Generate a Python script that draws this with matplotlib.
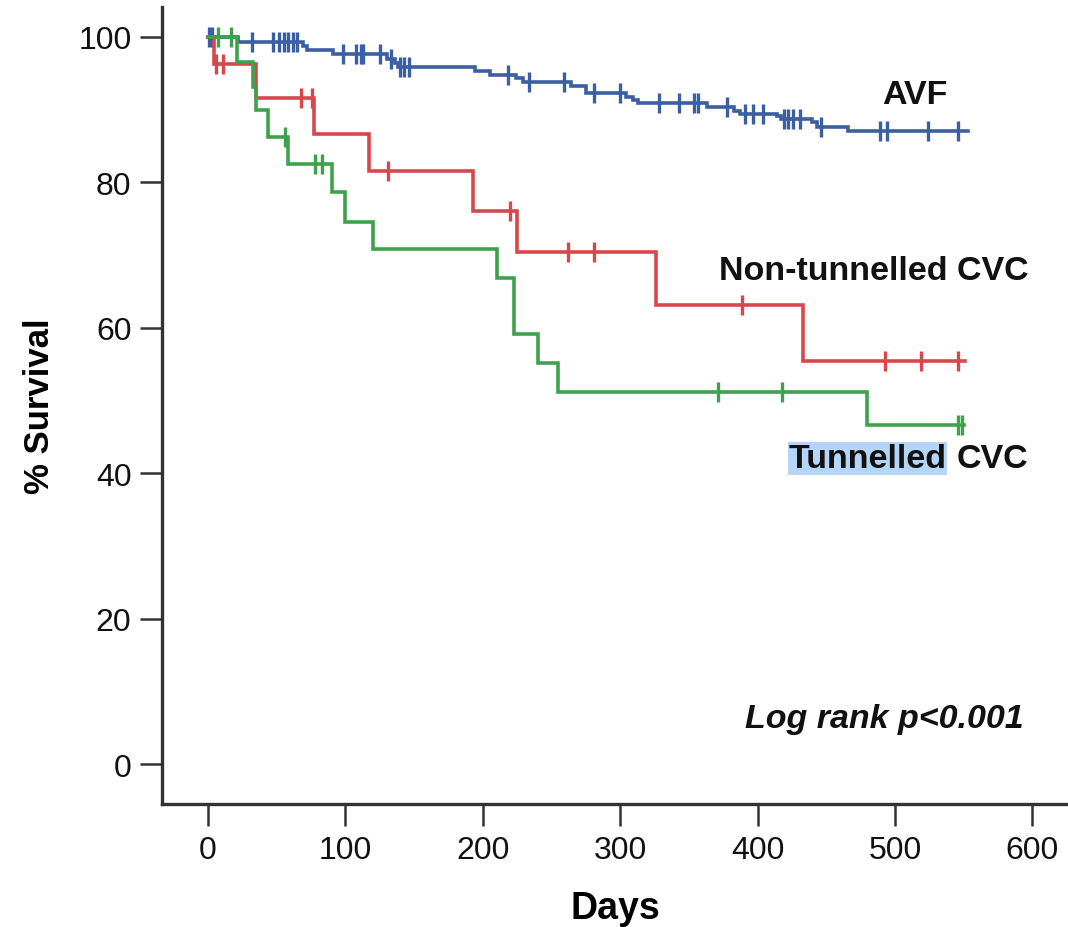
import numpy as np
import matplotlib
matplotlib.use("Agg")
from matplotlib import pyplot as plt

plt.rcParams['font.family'] = ['Liberation Sans', 'DejaVu Sans']

# AVF: event times (days) and % survival after each step
avf_t = [0, 22, 69, 72, 91, 130, 136, 138, 194, 205, 224, 229, 264, 275,
         304, 309, 313, 363, 383, 387, 414, 417, 440, 443, 466]
avf_s = [100, 99.3, 98.8, 98.2, 97.7, 97.0, 96.4, 95.8, 95.3, 94.8, 94.4, 93.8, 93.3, 92.3,
         91.7, 91.3, 90.9, 90.3, 89.8, 89.4, 89.1, 88.7, 88.3, 87.6, 87.1]
avf_end = 553
avf_cens = [1, 3, 32, 47, 52, 55, 58, 62, 65, 98, 108, 111, 113, 125, 133, 140,
            143, 146, 218, 234, 259, 281, 300, 328, 343, 354, 357, 378, 391,
            397, 404, 419, 422, 426, 431, 446, 489, 494, 524, 546]

# Non-tunnelled CVC
nt_t = [0, 4, 35, 77, 117, 193, 225, 326, 433]
nt_s = [100, 96.3, 91.6, 86.7, 81.5, 76.0, 70.4, 63.1, 55.4]
nt_end = 551
nt_cens = [6, 11, 68, 76, 131, 220, 262, 281, 389, 493, 519, 546]

# Tunnelled CVC
tu_t = [0, 21, 33, 35, 44, 58, 90, 100, 120, 210, 223, 240, 255, 480]
tu_s = [100, 96.5, 93.1, 89.9, 86.2, 82.5, 78.7, 74.6, 70.8, 66.8, 59.1, 55.2, 51.1, 46.6]
tu_end = 550
tu_cens = [7, 17, 56, 78, 83, 371, 418, 546, 549]

x_ticks = [0, 100, 200, 300, 400, 500, 600]
y_ticks = [0, 20, 40, 60, 80, 100]

fig = plt.figure(figsize=(10.68, 9.28), dpi=100)
ax = fig.add_axes([0.1517, 0.1325, 0.8483, 0.8589])


def km(t, s, end, cens, color):
    tt = list(t) + [end]
    ss = list(s) + [s[-1]]
    ax.step(tt, ss, where='post', color=color, lw=2.6, solid_joinstyle='miter')
    idx = np.searchsorted(t, cens, side='right') - 1
    ax.plot(cens, np.array(s)[idx], ls='none', marker='|', ms=14, mew=2.4, color=color)


km(avf_t, avf_s, avf_end, avf_cens, '#3a5fa3')
km(nt_t, nt_s, nt_end, nt_cens, '#d8474c')
km(tu_t, tu_s, tu_end, tu_cens, '#3ea24c')

ax.set_xlim(-33.5, 626)
ax.set_ylim(-5.5, 104.1)
ax.set_xticks(x_ticks)
ax.set_yticks(y_ticks)
for side in ['top', 'right']:
    ax.spines[side].set_visible(False)
for side in ['left', 'bottom']:
    ax.spines[side].set_linewidth(2.4)
    ax.spines[side].set_color('#333333')
ax.tick_params(length=16, width=1.8, color='#333333', labelsize=23, pad=6,
               labelcolor='#111111')

ax.set_xlabel('Days', fontsize=27, fontweight='bold', labelpad=18)
ax.set_ylabel('% Survival', fontsize=25, fontweight='bold', labelpad=16)

lab = dict(fontsize=24.5, fontweight='bold', color='#111111')
ax.text(538, 92, 'AVF', ha='right', va='center', **lab)
ax.text(597, 67.8, 'Non-tunnelled CVC', ha='right', va='center', **lab)
t_cvc = ax.text(597, 42, 'CVC', ha='right', va='center', **lab)
ax.annotate('Tunnelled', xy=(0, 0), xycoords=t_cvc, xytext=(-7, 0),
            textcoords='offset points', ha='right', va='bottom',
            bbox=dict(boxstyle='square,pad=0.02', fc='#b5d5f8', ec='none'), **lab)
ax.text(594, 6.2, 'Log rank p<0.001', ha='right', va='center', fontsize=24.5,
        fontweight='bold', fontstyle='italic', color='#111111')

fig.savefig('out.png', dpi=100)
